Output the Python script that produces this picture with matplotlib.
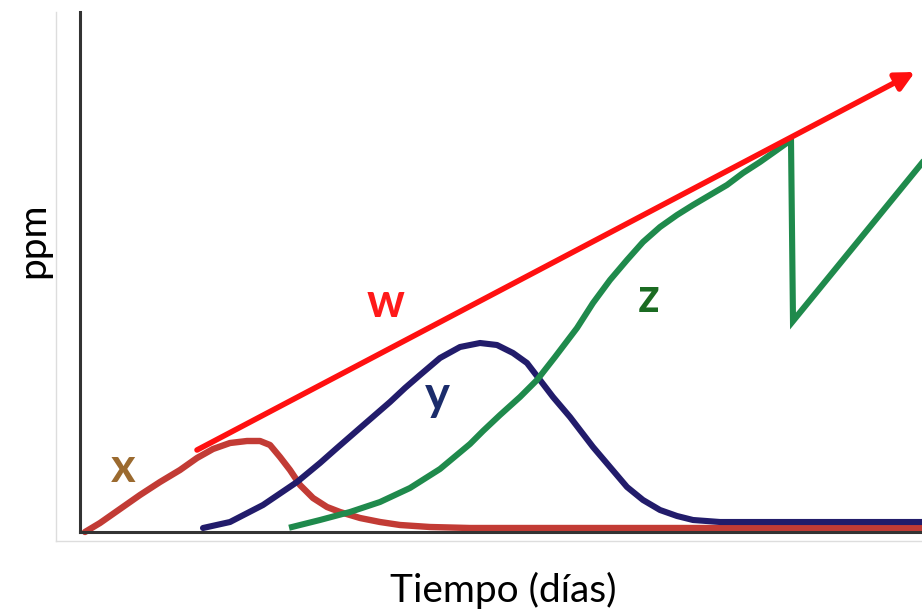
import matplotlib
matplotlib.use("Agg")
import matplotlib.pyplot as plt
from matplotlib.lines import Line2D

plt.rcParams['font.family'] = ['Lato', 'DejaVu Sans']

# x: first curve (brown-red)
x_t = [0.5, 2.0, 4.0, 6.0, 8.0, 10.0, 11.7, 13.3, 15.0, 16.7, 18.0, 19.0,
       20.0, 21.0, 22.0, 23.3, 24.7, 26.0, 28.0, 30.0, 32.0, 35.0, 39.0, 84.2]
x_v = [0.0, 0.9, 2.3, 3.7, 5.0, 6.2, 7.4, 8.3, 8.9, 9.1, 9.1, 8.7,
       7.5, 6.2, 4.7, 3.4, 2.5, 2.0, 1.4, 1.0, 0.7, 0.5, 0.4, 0.4]

# y: second curve (navy)
y_t = [12.3, 15.0, 18.3, 21.7, 24.0, 25.7, 28.0, 31.0, 32.5, 34.0, 36.0, 38.0,
       40.0, 41.7, 43.3, 44.7, 46.0, 47.3, 49.0, 51.3, 53.0, 54.7, 56.3, 58.0,
       59.7, 61.3, 64.0, 84.2]
y_v = [0.4, 1.0, 2.7, 5.0, 6.9, 8.4, 10.4, 13.0, 14.4, 15.7, 17.4, 18.5,
       18.9, 18.7, 17.9, 16.9, 15.2, 13.5, 11.5, 8.5, 6.5, 4.5, 3.2, 2.2,
       1.6, 1.2, 1.0, 1.0]

# z: third curve (green, sawtooth at the end)
z_t = [21.2, 24.0, 27.0, 30.0, 33.0, 36.0, 39.0, 40.3, 42.0, 44.0, 45.7, 47.5,
       49.7, 51.3, 53.0, 54.7, 56.3, 58.0, 59.7, 61.3, 63.0, 64.7, 66.3, 68.0,
       69.7, 71.1, 71.3, 84.2]
z_v = [0.5, 1.2, 2.0, 3.0, 4.4, 6.3, 8.8, 10.1, 11.7, 13.5, 15.2, 17.5,
       20.4, 22.9, 25.2, 27.2, 29.0, 30.5, 31.7, 32.7, 33.7, 34.7, 35.9, 37.0,
       38.2, 39.2, 21.1, 36.9]

# w: straight trend arrow
w_t = [11.7, 83.5]
w_v = [8.2, 46.0]

labels = ["x", "y", "z", "w"]
label_t = [4.3, 35.7, 56.9, 30.6]
label_v = [5.0, 12.2, 22.0, 21.5]
label_colors = ["#9b6a2f", "#1b2c6b", "#1b6b22", "#ff1a1a"]

fig = plt.figure(figsize=(9.22, 6.12), dpi=100)
ax = fig.add_axes([80 / 922, 80 / 612, 842 / 922, 520 / 612])

ax.plot(x_t, x_v, color="#c23b35", lw=4.6, solid_capstyle="round",
        solid_joinstyle="round", clip_on=False)
ax.plot(y_t, y_v, color="#221c6b", lw=4.4, solid_capstyle="round",
        solid_joinstyle="round", clip_on=False)
ax.plot(z_t, z_v, color="#1f8a4c", lw=4.4, solid_joinstyle="miter", clip_on=False)

ax.annotate("", xy=(w_t[1], w_v[1]), xytext=(w_t[0], w_v[0]),
            arrowprops=dict(arrowstyle="-|>", color="#ff1010", lw=4.0,
                            mutation_scale=28, shrinkA=0, shrinkB=0))

for lab, t, v, c in zip(labels, label_t, label_v, label_colors):
    ax.text(t, v, lab, color=c, fontsize=34, fontweight="bold",
            ha="center", va="baseline")

ax.set_xlim(0, 84.2)
ax.set_ylim(0, 52)
ax.set_xticks([])
ax.set_yticks([])
for s in ["top", "right"]:
    ax.spines[s].set_visible(False)
for s in ["left", "bottom"]:
    ax.spines[s].set_color("#333333")
    ax.spines[s].set_linewidth(2.2)

# faint picture frame
fig.add_artist(Line2D([56 / 922, 56 / 922], [1 - 12 / 612, 1 - 541 / 612],
                      color="#dddddd", lw=1))
fig.add_artist(Line2D([56 / 922, 1], [1 - 541 / 612, 1 - 541 / 612],
                      color="#dddddd", lw=1))

fig.text(33 / 922, 1 - 240 / 612, "ppm", rotation=90, fontsize=28,
         ha="center", va="center")
fig.text(503 / 922, 1 - 602 / 612, "Tiempo (días)", fontsize=28,
         ha="center", va="baseline")

fig.savefig("out.png", dpi=100)
